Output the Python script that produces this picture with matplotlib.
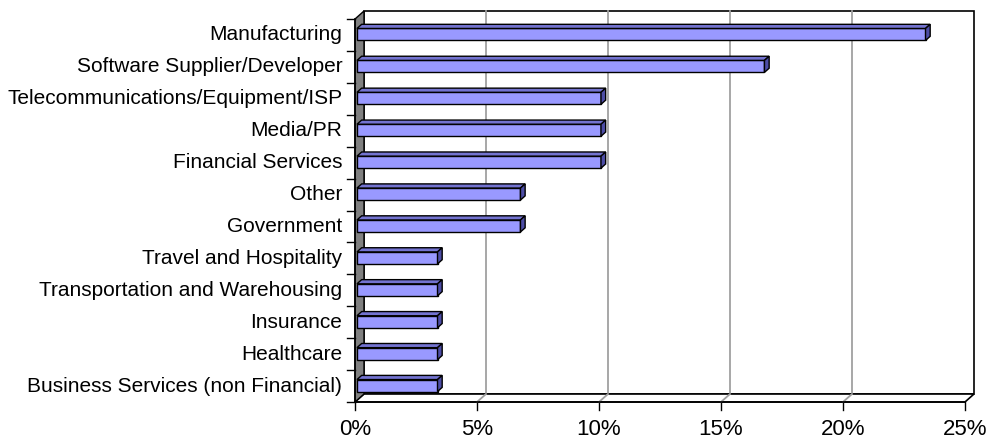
import matplotlib.pyplot as plt
from matplotlib.patches import Polygon, Rectangle

# Share of respondents by industry (%), listed bottom to top
industries = [
    "Business Services (non Financial)",
    "Healthcare",
    "Insurance",
    "Transportation and Warehousing",
    "Travel and Hospitality",
    "Government",
    "Other",
    "Financial Services",
    "Media/PR",
    "Telecommunications/Equipment/ISP",
    "Software Supplier/Developer",
    "Manufacturing",
]
shares = [3.3, 3.3, 3.3, 3.3, 3.3, 6.7, 6.7, 10.0, 10.0, 10.0, 16.7, 23.3]
xticks = [0, 5, 10, 15, 20, 25]

plt.rcParams['font.family'] = ['Liberation Sans', 'DejaVu Sans']

W, H = 988, 443
fig = plt.figure(figsize=(W / 100, H / 100), dpi=100)
# front plane of the 3-D box in pixel terms
x0, x1 = 355, 965
y0, y1 = 402, 19
ax = fig.add_axes([x0 / W, (H - y0) / H, (x1 - x0) / W, (y0 - y1) / H])
n = len(industries)
xmax = xticks[-1]
ax.set_xlim(0, xmax)
ax.set_ylim(-0.5, n - 0.5)
ax.axis('off')

# depth offset of the back wall (9 px right, 8 px up)
dx = 9 / (x1 - x0) * xmax
dy = 8 / (y0 - y1) * n
yb, yt = -0.5, n - 0.5

# back wall
ax.add_patch(Rectangle((dx, yb + dy), xmax, n, facecolor='white',
                       edgecolor='black', lw=1.2, clip_on=False, zorder=1))
# floor
ax.add_patch(Polygon([(0, yb), (xmax, yb), (xmax + dx, yb + dy), (dx, yb + dy)],
                     closed=True, facecolor='white', edgecolor='black', lw=1.2,
                     clip_on=False, zorder=2))
# left side wall
ax.add_patch(Polygon([(0, yb), (dx, yb + dy), (dx, yt + dy), (0, yt)],
                     closed=True, facecolor='#808080', edgecolor='black', lw=1.0,
                     clip_on=False, zorder=2))

# gridlines on back wall and floor
for v in xticks[1:-1]:
    ax.plot([v + dx, v + dx], [yb + dy, yt + dy], color='#A0A0A0', lw=1.3,
            clip_on=False, zorder=1.5)
    ax.plot([v, v + dx], [yb, yb + dy], color='#A0A0A0', lw=1.3,
            clip_on=False, zorder=2.5)

# front axis lines and ticks
ax.plot([0, xmax], [yb, yb], color='black', lw=1.2, clip_on=False, zorder=3)
ax.plot([0, 0], [yb, yt], color='black', lw=1.2, clip_on=False, zorder=3)
tick_dy = 8 / (y0 - y1) * n
tick_dx = 8 / (x1 - x0) * xmax
for v in xticks:
    ax.plot([v, v], [yb, yb - tick_dy], color='black', lw=1.0, clip_on=False)
    ax.text(v, yb - 2.1 * tick_dy, f"{v}%", ha='center', va='top', fontsize=16)
for k in range(n + 1):
    ax.plot([-tick_dx, 0], [yb + k, yb + k], color='black', lw=1.0, clip_on=False)

for i, name in enumerate(industries):
    ax.text(-1.6 * tick_dx, i, name, ha='right', va='center', fontsize=15)

# 3-D bars
bh = 12 / (y0 - y1) * n
f_front, f_back = 0.22, 0.74
for i, v in enumerate(shares):
    ox, oy = f_front * dx, f_front * dy
    bx, by = f_back * dx, f_back * dy
    ylo = i - bh / 2 - 0.04
    yhi = ylo + bh
    front = Rectangle((ox, ylo + oy), v, bh, facecolor='#9999FF',
                      edgecolor='black', lw=1.0, zorder=5)
    top = Polygon([(ox, yhi + oy), (v + ox, yhi + oy), (v + bx, yhi + by), (bx, yhi + by)],
                  closed=True, facecolor='#7373D0', edgecolor='black', lw=1.0, zorder=5)
    side = Polygon([(v + ox, ylo + oy), (v + bx, ylo + by), (v + bx, yhi + by), (v + ox, yhi + oy)],
                   closed=True, facecolor='#4D4DA6', edgecolor='black', lw=1.0, zorder=5)
    for p in (front, top, side):
        p.set_clip_on(False)
        ax.add_patch(p)

fig.savefig("out.png", dpi=100, facecolor='white')
